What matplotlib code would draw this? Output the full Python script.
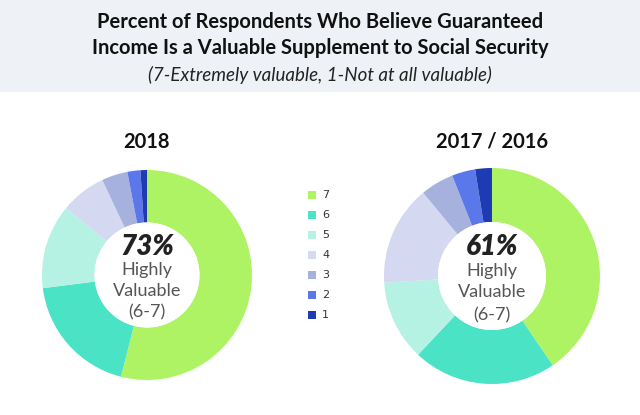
import matplotlib.pyplot as plt
from matplotlib.patches import Rectangle, Circle

# Data
levels = ["7", "6", "5", "4", "3", "2", "1"]
colors = ["#aef363", "#4ae3c5", "#b5f2e3", "#d4d8f0", "#a7b1de", "#5a78ea", "#1f3bb3"]
share_2018 = [54, 19, 13, 7, 4, 2, 1]
share_2017 = [40.5, 21.5, 12, 15, 5, 3.5, 2.5]
highly_2018 = "73%"
highly_2017 = "61%"

W, H = 640, 415
fig = plt.figure(figsize=(W / 100, H / 100), dpi=100)
fig.patch.set_facecolor("white")

# Header band
fig.patches.append(Rectangle((0, 1 - 92 / H), 1, 92 / H, transform=fig.transFigure,
                             facecolor="#eef2f6", edgecolor="none", zorder=0))

font = "Lato"
fig.text(0.5, 1 - 22 / H, "Percent of Respondents Who Believe Guaranteed",
         ha="center", va="center", fontsize=14.5, fontweight="bold", family=font, color="#111111")
fig.text(0.5, 1 - 48 / H, "Income Is a Valuable Supplement to Social Security",
         ha="center", va="center", fontsize=14.5, fontweight="bold", family=font, color="#111111")
fig.text(0.5, 1 - 75 / H, "(7-Extremely valuable, 1-Not at all valuable)",
         ha="center", va="center", fontsize=13.5, style="italic", family=font, color="#222222")


def donut(cx, cy, r, values, title, pct):
    ax = fig.add_axes([(cx - r) / W, 1 - (cy + r) / H, 2 * r / W, 2 * r / H])
    ax.pie(values, colors=colors, startangle=90, counterclock=False, radius=1,
           wedgeprops=dict(width=0.5, linewidth=0))
    ax.add_patch(Circle((0, 0), 0.5, facecolor="white", edgecolor="none"))
    ax.set_xlim(-1, 1)
    ax.set_ylim(-1, 1)
    ax.set_aspect("equal")
    ax.axis("off")
    ax.text(0, 0.27, pct, ha="center", va="center", fontsize=20, fontweight="heavy",
            style="italic", family=font, color="#222222")
    ax.text(0, 0.05, "Highly", ha="center", va="center", fontsize=13, family=font, color="#555555")
    ax.text(0, -0.15, "Valuable", ha="center", va="center", fontsize=13, family=font, color="#555555")
    ax.text(0, -0.36, "(6-7)", ha="center", va="center", fontsize=13, family=font, color="#555555")
    fig.text(cx / W, 1 - 142 / H, title, ha="center", va="center", fontsize=14.5,
             fontweight="bold", family=font, color="#111111")


donut(147, 275, 105, share_2018, "2018", highly_2018)
donut(492, 276, 108, share_2017, "2017 / 2016", highly_2017)

# Legend
for i, (lab, col) in enumerate(zip(levels, colors)):
    y = 195 + i * 20
    fig.patches.append(Rectangle((308 / W, 1 - (y + 4) / H), 8 / W, 8 / H,
                                 transform=fig.transFigure, facecolor=col, edgecolor="none"))
    fig.text(322 / W, 1 - y / H, lab, ha="left", va="center", fontsize=8,
             family="DejaVu Sans", color="#333333")

fig.savefig("out.png", dpi=100)
